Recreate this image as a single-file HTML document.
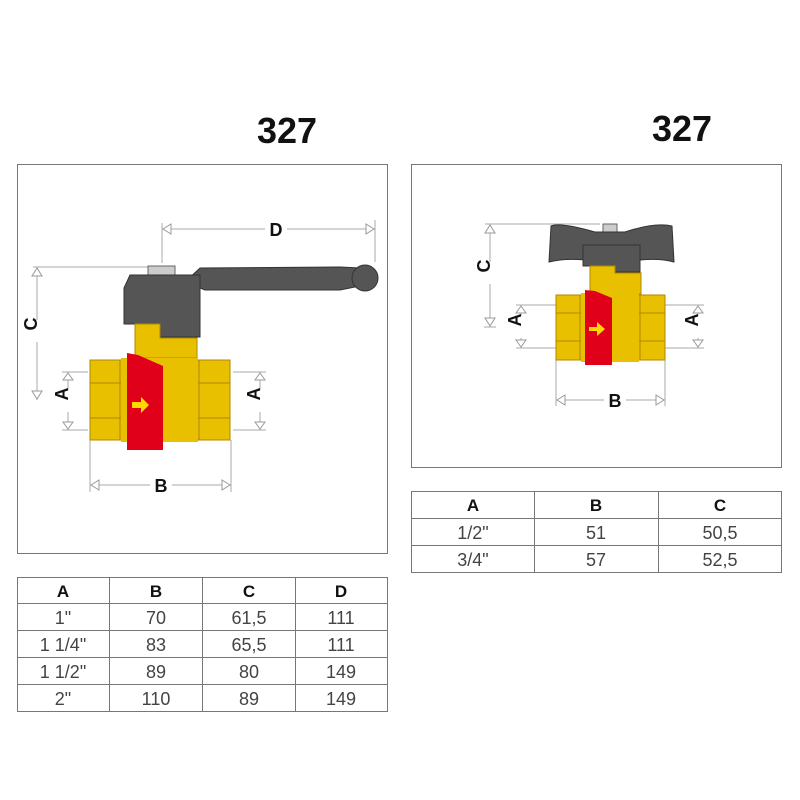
<!DOCTYPE html>
<html><head><meta charset="utf-8"><style>
html,body{margin:0;padding:0;background:#fff}
svg{display:block}
text{font-family:"Liberation Sans",sans-serif}
.h{font-weight:bold;font-size:17px;fill:#111}
.c{font-size:18px;fill:#444}
.dl{stroke:#aaa;stroke-width:1;fill:none}
.ar{fill:#fff;stroke:#999;stroke-width:1}
.lb{font-weight:bold;font-size:18px;fill:#111}
</style></head><body>
<svg width="800" height="800" viewBox="0 0 800 800">
<text x="287" y="143" text-anchor="middle" font-weight="bold" font-size="36" fill="#111">327</text>
<text x="682" y="141" text-anchor="middle" font-weight="bold" font-size="36" fill="#111">327</text>
<rect x="17.5" y="164.5" width="370" height="389" fill="#fff" stroke="#777"/>
<rect x="411.5" y="164.5" width="370" height="303" fill="#fff" stroke="#777"/>

<!-- LEFT VALVE dims -->
<g class="dl">
<line x1="162" y1="229" x2="375" y2="229"/><line x1="162" y1="223" x2="162" y2="263"/><line x1="375" y1="220" x2="375" y2="262"/>
<line x1="33" y1="267" x2="152" y2="267"/><line x1="37" y1="267" x2="37" y2="400"/>
<line x1="62" y1="372" x2="88" y2="372"/><line x1="62" y1="430" x2="88" y2="430"/><line x1="68" y1="372" x2="68" y2="430"/>
<line x1="233" y1="372" x2="266" y2="372"/><line x1="233" y1="430" x2="266" y2="430"/><line x1="260" y1="372" x2="260" y2="430"/>
<line x1="90" y1="440" x2="90" y2="492"/><line x1="231" y1="440" x2="231" y2="492"/><line x1="90" y1="485" x2="231" y2="485"/>
</g>
<rect x="265" y="222" width="22" height="15" fill="#fff"/><text class="lb" x="276" y="236" text-anchor="middle">D</text>
<rect x="29" y="320" width="16" height="22" fill="#fff"/><text class="lb" x="44" y="331" text-anchor="middle" transform="rotate(-90 37 331)">C</text>
<rect x="60" y="390" width="16" height="22" fill="#fff"/><text class="lb" x="75" y="401" text-anchor="middle" transform="rotate(-90 68 401)">A</text>
<rect x="252" y="390" width="16" height="22" fill="#fff"/><text class="lb" x="267" y="401" text-anchor="middle" transform="rotate(-90 260 401)">A</text>
<rect x="150" y="478" width="22" height="15" fill="#fff"/><text class="lb" x="161" y="492" text-anchor="middle">B</text>
<g class="ar">
<path d="M163 229l8-5v10z"/><path d="M374 229l-8-5v10z"/>
<path d="M37 268l-5 8h10z"/><path d="M37 399l-5-8h10z"/>
<path d="M68 373l-5 7h10z"/><path d="M68 429l-5-7h10z"/>
<path d="M260 373l-5 7h10z"/><path d="M260 429l-5-7h10z"/>
<path d="M91 485l8-5v10z"/><path d="M230 485l-8-5v10z"/>
</g>
<!-- left valve body -->
<rect x="148" y="266" width="27" height="12" fill="#ccc" stroke="#666"/>
<path d="M185 282 L200 268 L340 267 L360 268 L365 285 L340 290 L205 290 Z" fill="#555" stroke="#333"/>
<circle cx="365" cy="278" r="13" fill="#555" stroke="#333"/>
<path d="M130 275 H200 V337 H160 V324 H124 V288 Z" fill="#555" stroke="#333"/>
<path d="M135 324 H160 V338 H197 V358 H135 Z" fill="#e8c000" stroke="#b08800"/>
<rect x="90" y="360" width="140" height="80" fill="#e8c000" stroke="#b08800"/>
<line x1="90" y1="383" x2="230" y2="383" stroke="#b08800"/><line x1="90" y1="418" x2="230" y2="418" stroke="#b08800"/>
<line x1="120" y1="360" x2="120" y2="440" stroke="#b08800"/><line x1="199" y1="360" x2="199" y2="440" stroke="#b08800"/>
<rect x="121" y="358" width="77" height="84" fill="#e8c000"/>
<path d="M127 353 L138 355 L163 366 V450 H127 Z" fill="#e0001a"/>
<path d="M132 402h9v-5l8 8-8 8v-5h-9z" fill="#ffd800"/>

<!-- RIGHT VALVE dims -->
<g class="dl">
<line x1="485" y1="224" x2="600" y2="224"/><line x1="490" y1="224" x2="490" y2="327"/><line x1="484" y1="327" x2="496" y2="327"/>
<line x1="516" y1="305" x2="556" y2="305"/><line x1="516" y1="348" x2="556" y2="348"/><line x1="521" y1="305" x2="521" y2="348"/>
<line x1="665" y1="305" x2="704" y2="305"/><line x1="665" y1="348" x2="704" y2="348"/><line x1="698" y1="305" x2="698" y2="348"/>
<line x1="556" y1="360" x2="556" y2="406"/><line x1="665" y1="360" x2="665" y2="406"/><line x1="556" y1="400" x2="665" y2="400"/>
</g>
<rect x="482" y="262" width="16" height="22" fill="#fff"/><text class="lb" x="497" y="273" text-anchor="middle" transform="rotate(-90 490 273)">C</text>
<rect x="513" y="316" width="16" height="22" fill="#fff"/><text class="lb" x="528" y="327" text-anchor="middle" transform="rotate(-90 521 327)">A</text>
<rect x="690" y="316" width="16" height="22" fill="#fff"/><text class="lb" x="705" y="327" text-anchor="middle" transform="rotate(-90 698 327)">A</text>
<rect x="604" y="393" width="22" height="15" fill="#fff"/><text class="lb" x="615" y="407" text-anchor="middle">B</text>
<g class="ar">
<path d="M490 225l-5 8h10z"/><path d="M490 326l-5-8h10z"/>
<path d="M521 306l-5 7h10z"/><path d="M521 347l-5-7h10z"/>
<path d="M698 306l-5 7h10z"/><path d="M698 347l-5-7h10z"/>
<path d="M557 400l8-5v10z"/><path d="M664 400l-8-5v10z"/>
</g>
<rect x="603" y="224" width="14" height="8" fill="#ccc" stroke="#666"/>
<path d="M551 226 Q560 222 595 232 H625 Q655 222 672 226 L674 262 Q660 258 640 260 H585 Q565 258 549 262 Z" fill="#555" stroke="#333"/>
<path d="M583 245 H640 V272 H615 V266 H583 Z" fill="#555" stroke="#333"/>
<path d="M590 266 H615 V273 H641 V294 H590 Z" fill="#e8c000" stroke="#b08800"/>
<rect x="556" y="295" width="109" height="65" fill="#e8c000" stroke="#b08800"/>
<line x1="556" y1="313" x2="665" y2="313" stroke="#b08800"/><line x1="556" y1="341" x2="665" y2="341" stroke="#b08800"/>
<line x1="580" y1="295" x2="580" y2="360" stroke="#b08800"/><line x1="640" y1="295" x2="640" y2="360" stroke="#b08800"/>
<rect x="581" y="293" width="58" height="69" fill="#e8c000"/>
<path d="M585 290 L595 291 L612 298 V365 H585 Z" fill="#e0001a"/>
<path d="M589 327h8v-5l8 7-8 7v-5h-8z" fill="#ffd800"/>

<!-- LEFT TABLE -->
<g stroke="#777" fill="none">
<rect x="17.5" y="577.5" width="370" height="134"/>
<line x1="17" y1="603.5" x2="388" y2="603.5"/><line x1="17" y1="630.5" x2="388" y2="630.5"/>
<line x1="17" y1="657.5" x2="388" y2="657.5"/><line x1="17" y1="684.5" x2="388" y2="684.5"/>
<line x1="109.5" y1="577" x2="109.5" y2="712"/><line x1="202.5" y1="577" x2="202.5" y2="712"/><line x1="295.5" y1="577" x2="295.5" y2="712"/>
</g>
<g text-anchor="middle">
<text class="h" x="63" y="597">A</text><text class="h" x="156" y="597">B</text><text class="h" x="249" y="597">C</text><text class="h" x="341" y="597">D</text>
<text class="c" x="63" y="624">1"</text><text class="c" x="156" y="624">70</text><text class="c" x="249" y="624">61,5</text><text class="c" x="341" y="624">111</text>
<text class="c" x="63" y="651">1 1/4"</text><text class="c" x="156" y="651">83</text><text class="c" x="249" y="651">65,5</text><text class="c" x="341" y="651">111</text>
<text class="c" x="63" y="678">1 1/2"</text><text class="c" x="156" y="678">89</text><text class="c" x="249" y="678">80</text><text class="c" x="341" y="678">149</text>
<text class="c" x="63" y="705">2"</text><text class="c" x="156" y="705">110</text><text class="c" x="249" y="705">89</text><text class="c" x="341" y="705">149</text>
</g>
<!-- RIGHT TABLE -->
<g stroke="#777" fill="none">
<rect x="411.5" y="491.5" width="370" height="81"/>
<line x1="411" y1="518.5" x2="782" y2="518.5"/><line x1="411" y1="545.5" x2="782" y2="545.5"/>
<line x1="534.5" y1="491" x2="534.5" y2="572"/><line x1="658.5" y1="491" x2="658.5" y2="572"/>
</g>
<g text-anchor="middle">
<text class="h" x="473" y="511">A</text><text class="h" x="596" y="511">B</text><text class="h" x="720" y="511">C</text>
<text class="c" x="473" y="539">1/2"</text><text class="c" x="596" y="539">51</text><text class="c" x="720" y="539">50,5</text>
<text class="c" x="473" y="566">3/4"</text><text class="c" x="596" y="566">57</text><text class="c" x="720" y="566">52,5</text>
</g>
</svg>
</body></html>
